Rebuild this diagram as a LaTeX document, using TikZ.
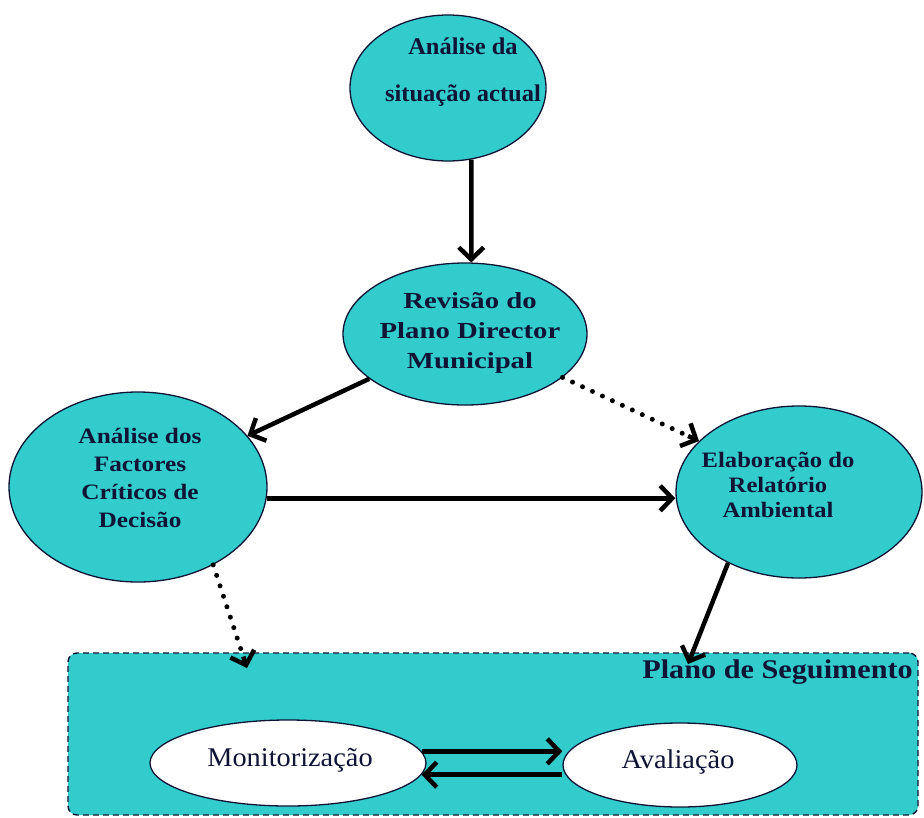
\documentclass[tikz,border=0pt]{standalone}
\usepackage{fontspec}
\setmainfont{Liberation Serif}
\usetikzlibrary{arrows.meta,shapes.geometric,calc}
\definecolor{teal1}{RGB}{51,204,204}
\definecolor{ink}{RGB}{15,20,55}
\begin{document}
\begin{tikzpicture}[x=1pt,y=-1pt,
  bub/.style={ellipse, draw=ink, line width=1.3pt, fill=teal1, inner sep=0pt},
  wbub/.style={ellipse, draw=ink, line width=1.3pt, fill=white, inner sep=0pt},
  lbl/.style={align=center, text=ink, inner sep=0pt},
  arr/.style={line width=4.5pt, draw=black, -{Straight Barb[length=12pt,width=25pt]}},
  dotline/.style={line width=5pt, draw=black, line cap=round, dash pattern=on 0pt off 11pt}
]
\useasboundingbox (0,0) rectangle (924,817);
\fill[white] (0,0) rectangle (924,817);

% plan box
\node[draw=ink, fill=teal1, line width=1.4pt, dash pattern=on 6pt off 4pt,
      rounded corners=9pt, minimum width=850pt, minimum height=162pt, inner sep=0pt]
      (box) at (493,734) {};
\node[lbl, anchor=east, xscale=1.12, font=\bfseries\fontsize{27}{30}\selectfont]
      (pst) at (913,672) {Plano de Seguimento};

% ellipses
\node[bub, minimum width=196pt, minimum height=146pt] (A) at (448,88) {};
\node[lbl, xscale=1.02, font=\bfseries\fontsize{24}{47}\selectfont] (At) at (463,72)
      {Análise da\\situação actual};

\node[bub, minimum width=244pt, minimum height=142pt] (B) at (465,334) {};
\node[lbl, xscale=1.25, font=\bfseries\fontsize{23}{30}\selectfont] (Bt) at (470,333)
      {Revisão do\\Plano Director\\Municipal};

\node[bub, minimum width=258pt, minimum height=190pt] (C) at (138,487) {};
\node[lbl, xscale=1.15, font=\bfseries\fontsize{22}{28}\selectfont] (Ct) at (140,478)
      {Análise dos\\Factores\\Críticos de\\Decisão};

\node[bub, minimum width=246pt, minimum height=172pt] (D) at (799,492) {};
\node[lbl, xscale=1.12, font=\bfseries\fontsize{22}{25}\selectfont] (Dt) at (778,485)
      {Elaboração do\\Relatório\\Ambiental};

\node[wbub, minimum width=276pt, minimum height=86pt] (M) at (288,763) {};
\node[lbl, xscale=1.05, font=\fontsize{27}{30}\selectfont] (Mt) at (290,760) {Monitorização};

\node[wbub, minimum width=234pt, minimum height=84pt] (V) at (680,765) {};
\node[lbl, xscale=1.05, font=\fontsize{27}{30}\selectfont] (Vt) at (678,762) {Avaliação};

% free ends in the plan box
\coordinate (pc) at (247,668);
\coordinate (pd) at (688,664);

% connectors
\draw[arr] (A.-72) -- (B.85);
\draw[arr] (B) -- (C);
\draw[dotline] (B.-24) -- ($(D.153)!10pt!(B.-24)$);
\draw[arr] ($(D.153)!12pt!(B.-24)$) -- (D.153);
\draw[arr] (C.-5) -- (C.-5 -| D.west);
\draw[dotline] (C.-46) -- ($(pc)!10pt!(C.-46)$);
\draw[arr] ($(pc)!12pt!(C.-46)$) -- (pc);
\draw[arr] (D.225) -- (pd);
\draw[arr] (M.5) -- (M.5 -| V.west);
\draw[arr] (M.-5 -| V.west) -- (M.-5);
\end{tikzpicture}
\end{document}
